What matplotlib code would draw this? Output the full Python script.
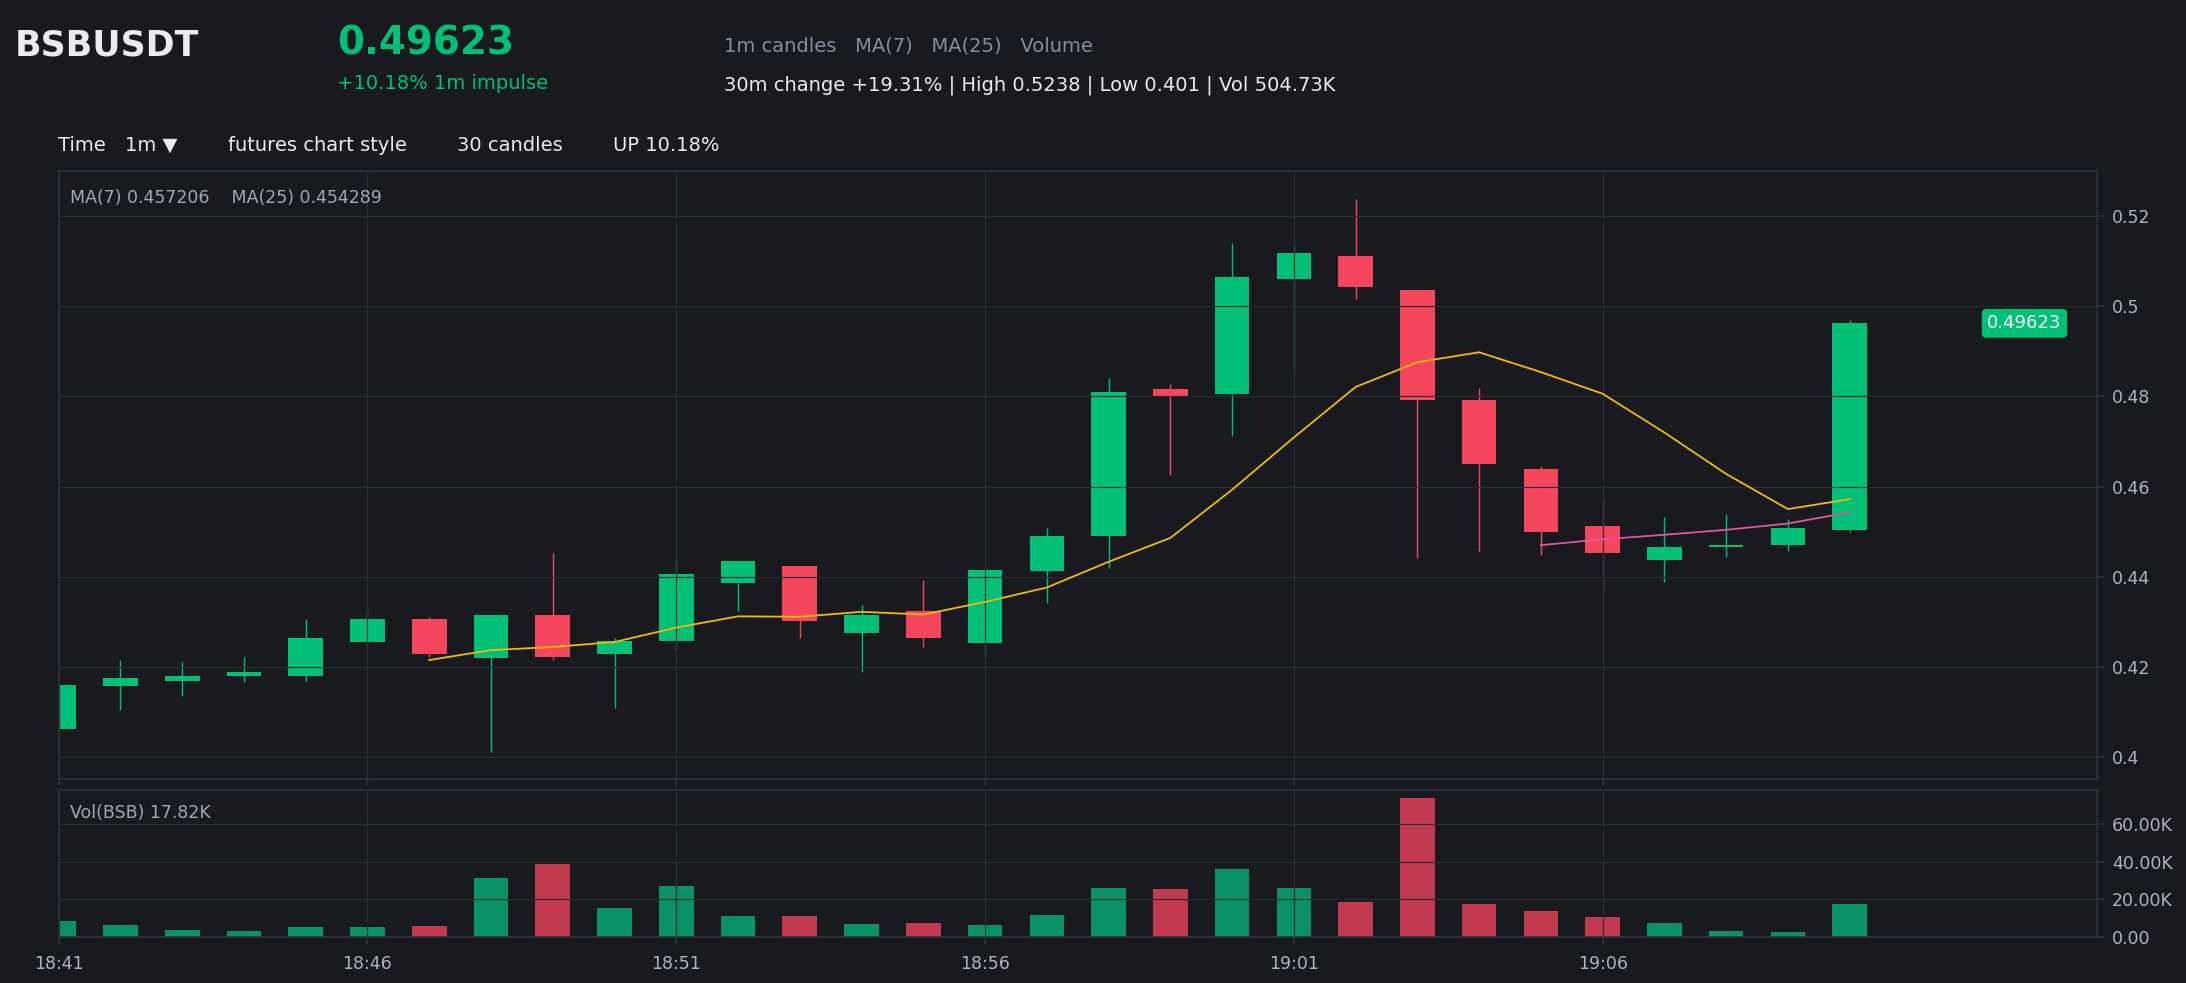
import matplotlib
matplotlib.use("Agg")
import matplotlib.pyplot as plt
from matplotlib.ticker import FuncFormatter, FixedLocator
import numpy as np

# ---------------- data ----------------
time_labels = ["18:41", "18:46", "18:51", "18:56", "19:01", "19:06"]
time_tick_idx = [0, 5, 10, 15, 20, 25]

opens = [0.4063, 0.4158, 0.4169, 0.4180, 0.4180, 0.4254, 0.4305, 0.4220, 0.4315, 0.4229,
         0.4258, 0.4387, 0.4424, 0.4274, 0.4324, 0.4252, 0.4412, 0.4491, 0.4817, 0.4806,
         0.5061, 0.5111, 0.5037, 0.4793, 0.4640, 0.4513, 0.4438, 0.4465, 0.4470, 0.4504]
closes = [0.4160, 0.4176, 0.4180, 0.4189, 0.4263, 0.4306, 0.4229, 0.4315, 0.4222, 0.4258,
          0.4407, 0.4435, 0.4301, 0.4315, 0.4263, 0.4414, 0.4491, 0.4809, 0.4802, 0.5066,
          0.5119, 0.5044, 0.4792, 0.4650, 0.4500, 0.4453, 0.4466, 0.4471, 0.4507, 0.49623]
highs = [0.4162, 0.4215, 0.4211, 0.4221, 0.4307, 0.4327, 0.4311, 0.4315, 0.4452, 0.4263,
         0.4439, 0.4435, 0.4424, 0.4337, 0.4393, 0.4414, 0.4507, 0.4840, 0.4828, 0.5141,
         0.5135, 0.5238, 0.5037, 0.4818, 0.4645, 0.4573, 0.4533, 0.4540, 0.4529, 0.4970]
lows = [0.4060, 0.4104, 0.4135, 0.4167, 0.4169, 0.4248, 0.4221, 0.4010, 0.4214, 0.4109,
        0.4239, 0.4323, 0.4263, 0.4188, 0.4243, 0.4221, 0.4341, 0.4419, 0.4626, 0.4713,
        0.4856, 0.5016, 0.4441, 0.4457, 0.4448, 0.4372, 0.4389, 0.4443, 0.4458, 0.4500]
volumes = [8650, 6530, 3860, 3370, 5440, 5440, 6040, 31500, 39100, 15500,
           27200, 11300, 11300, 7030, 7230, 6530, 11900, 26100, 25600, 36400,
           26100, 18900, 73900, 17700, 14000, 10800, 7620, 3370, 2480, 17820]

ma7_start = 6
ma7 = [0.4215, 0.4237, 0.4244, 0.4255, 0.4287, 0.4312, 0.4311, 0.4322, 0.4316, 0.4344,
       0.4376, 0.4433, 0.4486, 0.4593, 0.4709, 0.4821, 0.4876, 0.4898, 0.4854, 0.4806,
       0.4720, 0.4628, 0.4550, 0.457206]
ma25_start = 24
ma25 = [0.4470, 0.4483, 0.4493, 0.4504, 0.4518, 0.454289]

last_price = "0.49623"

# ---------------- style ----------------
BG = "#181a20"
GRID = "#2a2d34"
SPINE = "#2f333b"
UP = "#02c076"
DOWN = "#f6465d"
VUP = "#0b9168"
VDOWN = "#c13a50"
TICK_TXT = "#aeb4bc"
GRAY = "#848e9c"
MA7_C = "#f0b90b"
MA25_C = "#e0579c"

plt.rcParams["font.family"] = ["DejaVu Sans"]

W, H = 2186, 983
fig = plt.figure(figsize=(W / 100, H / 100), dpi=100, facecolor=BG)

def fx(px):
    return px / W

def fy(py):
    return 1 - py / H

ax = fig.add_axes([fx(58.7), fy(779), fx(2096.7) - fx(58.7), fy(170.7) - fy(779)])
axv = fig.add_axes([fx(58.7), fy(937), fx(2096.7) - fx(58.7), fy(790) - fy(937)], sharex=ax)

n = len(opens)
x = np.arange(n)
o = np.array(opens); c = np.array(closes); hi = np.array(highs); lo = np.array(lows)
up = c >= o
cols = [UP if u else DOWN for u in up]
vcols = [VUP if u else VDOWN for u in up]
width = 0.56

# wicks
ax.vlines(x, lo, hi, colors=cols, linewidth=1.0, zorder=1)
# bodies
bottoms = np.minimum(o, c)
heights = np.maximum(np.abs(c - o), 0.0004)
ax.bar(x, heights, bottom=bottoms, width=width, color=cols, linewidth=0, zorder=1.5)

# moving averages
ax.plot(np.arange(ma7_start, ma7_start + len(ma7)), ma7, color=MA7_C, linewidth=1.3, zorder=3)
ax.plot(np.arange(ma25_start, ma25_start + len(ma25)), ma25, color=MA25_C, linewidth=1.3, zorder=3)

# volume
axv.bar(x, volumes, width=width, color=vcols, linewidth=0, zorder=1)

for a in (ax, axv):
    a.set_facecolor(BG)
    for s in a.spines.values():
        s.set_color(SPINE)
        s.set_linewidth(1.2)
    a.set_axisbelow(False)
    a.grid(True, color=GRID, linewidth=0.85, zorder=2.5)
    a.yaxis.tick_right()
    a.tick_params(axis="both", labelsize=12.5, length=5, width=1.2, pad=6,
                  colors=SPINE, labelcolor=TICK_TXT)

ax.set_xlim(0, 33)
ax.set_ylim(0.3951, 0.5301)
ax.yaxis.set_major_locator(FixedLocator([0.40, 0.42, 0.44, 0.46, 0.48, 0.50, 0.52]))
ax.yaxis.set_major_formatter(FuncFormatter(lambda v, p: "%g" % round(v, 4)))
ax.xaxis.set_major_locator(FixedLocator(time_tick_idx))
ax.tick_params(axis="x", labelbottom=False)

axv.set_ylim(0, 78300)
axv.yaxis.set_major_locator(FixedLocator([0, 20000, 40000, 60000]))
axv.yaxis.set_major_formatter(FuncFormatter(lambda v, p: "0.00" if v == 0 else "%.2fK" % (v / 1000)))
axv.set_xticks(time_tick_idx)
axv.set_xticklabels(time_labels)
axv.tick_params(axis="x", pad=8)

# last price tag
ax.text(31.83, float(closes[-1]), last_price, ha="center", va="center", color="white",
        fontsize=13, zorder=5,
        bbox=dict(boxstyle="round,pad=0.3,rounding_size=0.25", fc=UP, ec="none"))

# in-axes labels
fig.text(fx(70), fy(198), "MA(7) 0.457206    MA(25) 0.454289", color="#a3a8b0",
         fontsize=12.5, va="center", ha="left")
fig.text(fx(70), fy(813), "Vol(BSB) 17.82K", color="#a3a8b0", fontsize=12.5, va="center", ha="left")

# header
fig.text(fx(15), fy(45), "BSBUSDT", color="#eaecef", fontsize=25, fontweight="bold", va="center", ha="left")
fig.text(fx(337), fy(43.5), last_price, color=UP, fontsize=28, fontweight="bold", va="center", ha="left")
fig.text(fx(337), fy(83.5), "+10.18% 1m impulse", color=UP, fontsize=14, va="center", ha="left")
fig.text(fx(724), fy(46.5), "1m candles   MA(7)   MA(25)   Volume", color=GRAY, fontsize=14, va="center", ha="left")
fig.text(fx(724), fy(85), "30m change +19.31% | High 0.5238 | Low 0.401 | Vol 504.73K", color="#eaecef",
         fontsize=14, va="center", ha="left")

# toolbar
fig.text(fx(58), fy(145.5), "Time", color="#eaecef", fontsize=14, va="center", ha="left")
fig.text(fx(125), fy(145.5), "1m \u25BC", color="#eaecef", fontsize=14, va="center", ha="left")
fig.text(fx(228), fy(145.5), "futures chart style", color="#eaecef", fontsize=14, va="center", ha="left")
fig.text(fx(457), fy(145.5), "30 candles", color="#eaecef", fontsize=14, va="center", ha="left")
fig.text(fx(613), fy(145.5), "UP 10.18%", color="#eaecef", fontsize=14, va="center", ha="left")

fig.savefig("out.png", dpi=100, facecolor=BG)
